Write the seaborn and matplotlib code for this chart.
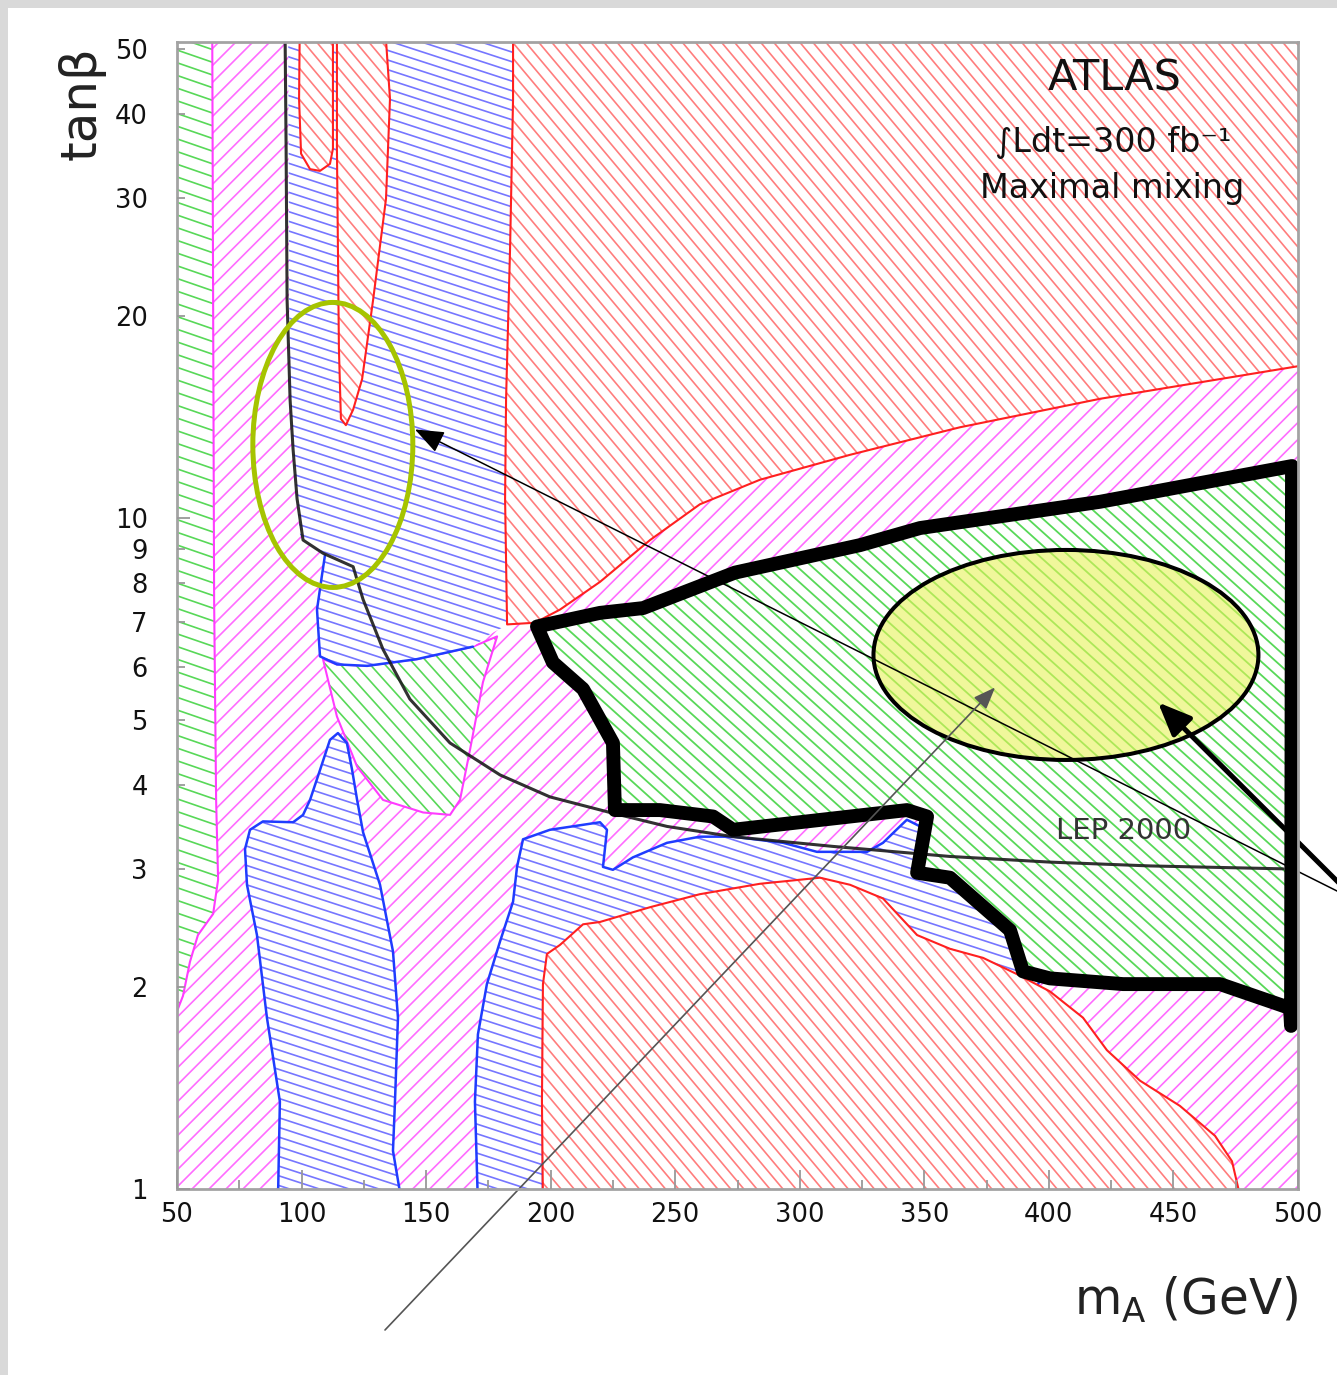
import numpy as np
import matplotlib
matplotlib.use("Agg")
import matplotlib.pyplot as plt
import seaborn as sns
from matplotlib.patches import Polygon, Ellipse, Rectangle
from matplotlib.collections import LineCollection

sns.set_theme(style="ticks")
plt.rcParams["font.family"] = ["DejaVu Sans"]

# ---------------- data (m_A in GeV, tan(beta)) ----------------
x_ticks = [50, 100, 150, 200, 250, 300, 350, 400, 450, 500]
x_minor = [75, 125, 175, 225, 275, 325, 375, 425, 475]
y_major = [1, 10]
y_minor = [2, 3, 4, 5, 6, 7, 8, 9, 20, 30, 40, 50]

# LEP 2000 exclusion curve
lep_mA = [93.4, 93.8, 94.2, 95.4, 96.6, 98.2, 100.6, 108.6, 120.7, 124.7, 132.7, 143.5,
          159.6, 179.7, 199.7, 223.8, 246.7, 273.2, 313.3, 360.3, 400.4, 440.6, 494.0]
lep_tanb = [52, 35.5, 21.1, 15.0, 12.65, 10.68, 9.27, 8.86, 8.46, 7.56, 6.37, 5.37,
            4.62, 4.14, 3.84, 3.64, 3.47, 3.35, 3.24, 3.13, 3.07, 3.03, 3.00]

# whole plane (magenta background)
bg_mA = [45, 505, 505, 45]
bg_tanb = [0.95, 0.95, 60, 60]

# green strip at low m_A
strip_mA = [45, 64.1, 64.5, 64.9, 65.7, 66.5, 64.5, 58.4, 55.2, 52.4, 50.0, 45]
strip_tanb = [60, 60, 21.1, 7.56, 3.80, 2.89, 2.57, 2.39, 2.18, 1.94, 1.84, 1.80]

# blue band around m_A ~ 100-185
band_mA = [94.6, 95.0, 95.8, 97.4, 99.4, 103.4, 109.4, 108.2, 106.2, 107.4, 114.2, 126.3,
           146.3, 168.8, 175.6, 183.0, 186.0]
band_tanb = [60, 21.1, 14.05, 11.4, 9.43, 9.11, 8.80, 8.22, 7.30, 6.22, 6.05, 6.02,
             6.16, 6.43, 6.71, 6.94, 60]

# green pocket below the band
mid_mA = [108.6, 114.2, 126.3, 146.3, 168.8, 178.5, 172.8, 167.6, 163.6, 159.6, 148.8,
          132.7, 122.3, 114.2]
mid_tanb = [6.16, 6.05, 6.02, 6.16, 6.43, 6.66, 5.69, 4.51, 3.80, 3.61, 3.64,
            3.80, 4.26, 5.06]

# blue lobe, low tan(beta), m_A ~ 80-140
lobe_mA = [90.5, 91.3, 86.1, 82.1, 78.1, 77.3, 79.3, 84.5, 96.6, 100.6, 103.4, 107.4, 111.4,
           114.6, 118.2, 120.3, 122.3, 124.7, 131.5, 136.7, 138.7, 137.5, 136.7, 140.3]
lobe_tanb = [0.95, 1.35, 1.80, 2.39, 2.84, 3.21, 3.43, 3.53, 3.52, 3.61, 3.80, 4.21, 4.67,
             4.78, 4.62, 4.21, 3.80, 3.40, 2.84, 2.26, 1.80, 1.35, 1.14, 0.95]

# blue area, low tan(beta), m_A ~ 170-400
low_mA = [170.8, 169.6, 170.8, 174.4, 179.7, 184.9, 186.5, 188.9, 199.7, 219.8, 222.6, 221.0,
          225.0, 233.0, 246.7, 259.9, 273.2, 293.3, 306.9, 327.0, 333.4, 340.2, 343.0,
          360.0, 390.0, 398.0, 392.0, 380.0, 360.0, 340.0, 320.0, 300.0, 260.0, 220.0,
          200.0, 197.0, 196.9]
low_tanb = [0.95, 1.35, 1.70, 2.02, 2.34, 2.68, 3.02, 3.32, 3.43, 3.52, 3.43, 3.02,
            2.99, 3.12, 3.28, 3.35, 3.35, 3.28, 3.18, 3.18, 3.28, 3.47, 3.55,
            3.3, 2.7, 2.1, 1.9, 2.0, 2.1, 2.2, 2.5, 2.6, 2.5, 2.3,
            2.1, 1.9, 0.95]

# red areas
redA_mA = [184.9, 505, 505, 420.5, 364.3, 320.2, 284.0, 259.9, 239.9, 219.8, 203.7, 193.7,
           182.5, 181.7, 182.1, 183.7, 184.9]
redA_tanb = [60, 60, 16.95, 15.05, 13.65, 12.42, 11.4, 10.48, 9.27, 8.03, 7.30, 6.98,
             6.94, 10.68, 15.05, 25.2, 42.1]
redU_mA = [99.4, 99.0, 99.8, 103.4, 107.4, 111.4, 112.6, 112.6]
redU_tanb = [60, 42.1, 34.9, 33.1, 32.9, 33.7, 35.5, 60]
spike_mA = [114.2, 132.7, 135.5, 133.9, 128.7, 124.3, 120.7, 117.8, 115.8, 115.0, 114.6, 114.2]
spike_tanb = [60, 60, 42.1, 29.9, 21.1, 16.1, 14.5, 13.75, 14.05, 17.85, 25.2, 35.5]
redC_mA = [196.9, 196.5, 196.9, 198.5, 203.7, 213.0, 219.8, 239.9, 259.9, 284.0, 308.1, 320.2,
           333.4, 347.1, 360.3, 373.6, 387.2, 400.4, 413.7, 423.3, 436.6, 452.6, 466.7,
           473.5, 477.5]
redC_tanb = [0.95, 1.35, 2.02, 2.24, 2.31, 2.48, 2.50, 2.63, 2.75, 2.85, 2.91, 2.84,
             2.71, 2.39, 2.28, 2.21, 2.09, 1.97, 1.80, 1.61, 1.45, 1.33, 1.20,
             1.10, 0.95]

# highlighted region (thick outline)
zone_mA = [194.5, 219.8, 237.1, 274.0, 324.2, 348.3, 420.5, 497.6, 497.2, 496.8, 468.7, 429.8,
           400.4, 389.6, 384.4, 360.3, 347.1, 351.1, 343.0, 273.2, 265.2, 243.9, 225.8,
           225.0, 213.0, 200.9]
zone_tanb = [6.89, 7.22, 7.34, 8.29, 9.11, 9.66, 10.57, 11.95, 1.75, 1.86, 2.02, 2.02,
             2.06, 2.11, 2.43, 2.91, 2.96, 3.59, 3.67, 3.43, 3.59, 3.67, 3.67,
             4.62, 5.56, 6.09]

# ---------------- figure ----------------
FIG_W, FIG_H = 1337, 1375
AX_L, AX_T, AX_R, AX_B = 177, 42, 1298, 1189
AX_W, AX_H = float(AX_R - AX_L), float(AX_B - AX_T)

fig = plt.figure(figsize=(FIG_W / 100, FIG_H / 100), dpi=100)
fig.patch.set_facecolor("#d9d9d9")
fig.add_artist(Rectangle((8 / FIG_W, 0), 1, (FIG_H - 8) / FIG_H, transform=fig.transFigure,
                         facecolor="white", edgecolor="none", zorder=-10))
ax = fig.add_axes([AX_L / FIG_W, (FIG_H - AX_B) / FIG_H, AX_W / FIG_W, AX_H / FIG_H])
ax.set_facecolor("white")
ax.set_yscale("log")
ax.set_xlim(50, 500)
ax.set_ylim(1, 51.2)


def shade(xs, ys, color, angle, gap, z, lw=1.2, edge=None, edge_lw=1.5):
    """White-backed region filled with parallel hatch lines at an arbitrary angle."""
    pts = np.column_stack([xs, ys])
    base = Polygon(pts, closed=True, facecolor="white", edgecolor="none", zorder=z)
    ax.add_patch(base)
    a = np.deg2rad(angle)
    d = np.array([np.cos(a), np.sin(a)])
    n = np.array([-np.sin(a), np.cos(a)])
    half = np.hypot(AX_W, AX_H)
    c = np.array([AX_W / 2, AX_H / 2])
    scale = np.array([AX_W, AX_H])
    segs = [np.array([c + t * n - half * d, c + t * n + half * d]) / scale
            for t in np.arange(-half, half, gap)]
    lc = LineCollection(segs, colors=color, linewidths=lw, transform=ax.transAxes, zorder=z + 0.01)
    ax.add_collection(lc, autolim=False)
    lc.set_clip_path(base)
    if edge is not None:
        ax.add_patch(Polygon(pts, closed=True, fill=False, edgecolor=edge, lw=edge_lw,
                             joinstyle="round", zorder=z + 0.02))
    return base


MAG, MAG_E = "#ff6cff", "#ff3cff"
RED, RED_E = "#ff7d7d", "#ff2020"
BLU, BLU_E = "#7676ff", "#1f3cff"
GRN = "#58d858"

shade(bg_mA, bg_tanb, MAG, 45, 12, 1.0)
shade(strip_mA, strip_tanb, GRN, -19, 12, 1.1, edge=MAG_E)
shade(mid_mA, mid_tanb, GRN, -48, 11, 1.2, edge=MAG_E)
shade(band_mA, band_tanb, BLU, -18, 9.2, 1.3)
ax.plot(band_mA[6:14], band_tanb[6:14], color=BLU_E, lw=1.8, zorder=1.34)
shade(lobe_mA, lobe_tanb, BLU, -18, 9.2, 1.4, edge=BLU_E, edge_lw=1.8)
shade(low_mA, low_tanb, BLU, -18, 9.2, 1.5, edge=BLU_E, edge_lw=1.8)
shade(redA_mA, redA_tanb, RED, -50, 10, 2.0, edge=RED_E)
shade(redU_mA, redU_tanb, RED, -50, 10, 2.1, edge=RED_E)
shade(spike_mA, spike_tanb, RED, -50, 10, 2.2, edge=RED_E)
shade(redC_mA, redC_tanb, RED, -50, 10, 2.3, edge=RED_E)
shade(zone_mA, zone_tanb, GRN, -42, 10, 3.0, lw=1.3)

# LEP 2000 limit
sns.lineplot(x=lep_mA, y=lep_tanb, sort=False, estimator=None, color="#1c1c1c",
             linewidth=2.2, alpha=0.9, ax=ax, zorder=4)
ax.text(430, 3.41, "LEP 2000", fontsize=21, color="#333333", ha="center", va="center", zorder=7)

# thick outline of the highlighted region
ax.add_patch(Polygon(np.column_stack([zone_mA, zone_tanb]), closed=True, fill=False,
                     edgecolor="black", lw=10, joinstyle="round", capstyle="round", zorder=5))

# ellipses
ax.add_patch(Ellipse((0.139, 0.6487), 0.1427, 0.2485, transform=ax.transAxes, fill=False,
                     edgecolor="#a6c400", lw=3.6, zorder=6))
ax.add_patch(Ellipse((0.793, 0.4656), 0.3434, 0.1831, transform=ax.transAxes,
                     facecolor=(0.90, 0.95, 0.35, 0.6), edgecolor="black", lw=2.9, zorder=6))

# annotations
ax.text(0.8368, 0.9686, "ATLAS", transform=ax.transAxes, fontsize=31, ha="center",
        va="center", color="#111111", zorder=7)
ax.text(0.835, 0.9128, "\u222bLdt=300 fb\u207b\u00b9", transform=ax.transAxes, fontsize=24,
        ha="center", va="center", color="#111111", zorder=7)
ax.text(0.834, 0.8727, "Maximal mixing", transform=ax.transAxes, fontsize=24, ha="center",
        va="center", color="#111111", zorder=7)

ax.annotate("", xy=(145.5, 13.55), xycoords="data", xytext=(1345, 480),
            textcoords="figure pixels", annotation_clip=False, zorder=9,
            arrowprops=dict(arrowstyle="-|>,head_length=0.9,head_width=0.35", color="black",
                            lw=1.1, mutation_scale=20, shrinkA=0, shrinkB=0))
ax.annotate("", xy=(443.8, 5.31), xycoords="data", xytext=(1345, 486),
            textcoords="figure pixels", annotation_clip=False, zorder=9,
            arrowprops=dict(arrowstyle="-|>,head_length=1.0,head_width=0.42", color="black",
                            lw=3.6, mutation_scale=20, shrinkA=0, shrinkB=0))
ax.annotate("", xy=(378.4, 5.59), xycoords="data", xytext=(385, 45),
            textcoords="figure pixels", annotation_clip=False, zorder=9,
            arrowprops=dict(arrowstyle="-|>,head_length=0.9,head_width=0.35", color="#555555",
                            lw=1.2, mutation_scale=15, shrinkA=0, shrinkB=0))

# axes styling
ax.set_xlim(50, 500)
ax.set_ylim(1, 51.2)
ax.set_xticks(x_ticks, labels=[str(v) for v in x_ticks])
ax.set_xticks(x_minor, minor=True)
ax.set_yticks(y_major, labels=[str(v) for v in y_major])
ax.set_yticks(y_minor, labels=[str(v) for v in y_minor], minor=True)
ax.tick_params(axis="both", which="both", direction="in", color="#999999", width=1.3,
               labelsize=18.5, labelcolor="#111111")
ax.tick_params(axis="x", which="major", length=14, pad=9)
ax.tick_params(axis="x", which="minor", length=6.5, pad=9)
ax.tick_params(axis="y", which="major", length=9.5, pad=21)
ax.tick_params(axis="y", which="minor", length=6, pad=21)
for s in ax.spines.values():
    s.set_color("#a3a3a3")
    s.set_linewidth(2)
    s.set_zorder(20)
ax.xaxis.set_zorder(20)
ax.yaxis.set_zorder(20)

ax.set_xlabel(r"m$_\mathregular{A}$ (GeV)", fontsize=35, color="#222222")
ax.xaxis.set_label_coords(1.0, -0.097)
ax.xaxis.label.set_ha("right")
ax.xaxis.label.set_va("center")
ax.set_ylabel("tan\u03b2", fontsize=36, color="#222222", rotation=90)
ax.yaxis.set_label_coords(-0.0847, 0.947)
ax.yaxis.label.set_ha("center")
ax.yaxis.label.set_va("center")

fig.savefig("out.png", dpi=100)
